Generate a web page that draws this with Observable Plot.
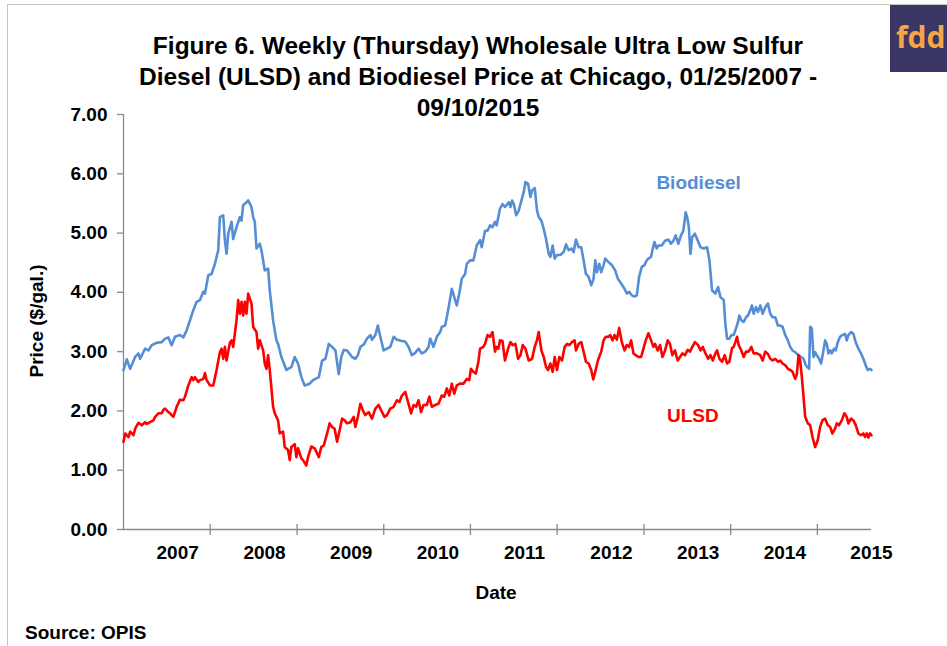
<!DOCTYPE html>
<html>
<head>
<meta charset="utf-8">
<script src="https://cdn.jsdelivr.net/npm/d3@7"></script>
<script src="https://cdn.jsdelivr.net/npm/@observablehq/plot@0.6"></script>
<style>
  html, body { margin: 0; padding: 0; background: #fff; }
  #wrap { position: relative; width: 947px; height: 646px; overflow: hidden; font-family: Arial, "Liberation Sans", sans-serif; font-weight: bold; color: #000; }
  #wrap > svg { position: absolute; left: 0; top: 0; }
  .abs { position: absolute; white-space: nowrap; }
  #border { left: 7px; top: 4px; width: 960px; height: 660px; border-left: 1.5px solid #c6c6c6; border-top: 1.5px solid #c6c6c6; }
  #title { left: 0; top: 30px; width: 956px; text-align: center; font-size: 24.5px; line-height: 31px; }
  #ylabel { left: 37px; top: 321px; font-size: 19px; transform: translate(-50%, -50%) rotate(-90deg); }
  #xlabel { left: 496px; top: 593px; font-size: 19px; transform: translate(-50%, -50%); }
  #source { left: 25px; top: 633px; font-size: 19px; transform: translate(0, -50%); }
  #logo { left: 890px; top: 5px; width: 57px; height: 67px; background: #3a3666; overflow: hidden; }
  #logo span { position: absolute; left: 6px; top: 15px; font-family: "Open Sans", Lato, sans-serif; font-size: 30px; font-weight: bold; color: #f6a646; line-height: 34px; }
</style>
</head>
<body>
<div id="wrap">
  <div id="border" class="abs"></div>
</div>
<script>
// ---- data (week index since 2007-01-25, price $/gal) ----
const startDate = "2007-01-25";
const endDate = "2015-09-10";

const biodiesel = [
[0,2.69],[2,2.87],[4,2.71],[7,2.91],[9,2.97],[10,2.88],[13,3.05],[15,3.02],[17,3.11],[20,3.15],[23,3.16],[25,3.22],[27,3.24],[29,3.11],[31,3.25],[34,3.28],[36,3.24],[38,3.36],[40,3.53],[42,3.70],[44,3.84],[46,3.87],[48,4.01],[49,3.98],[51,4.29],[53,4.31],[55,4.48],[57,4.71],[58,5.27],[60,5.30],[61,4.88],[62,4.65],[63,4.99],[65,5.19],[66,4.90],[68,5.10],[70,5.27],[71,5.21],[72,5.47],[74,5.52],[75,5.55],[77,5.44],[78,5.27],[79,5.19],[80,4.74],[82,4.82],[83,4.71],[85,4.37],[87,4.40],[88,4.03],[90,3.53],[92,3.19],[93,3.13],[95,2.91],[98,2.69],[99,2.71],[101,2.74],[103,2.91],[105,2.80],[107,2.57],[109,2.43],[112,2.46],[114,2.52],
[117.5,2.57],[119.5,2.85],[121.5,2.88],[123.5,3.13],[125.5,3.08],[127.5,3.02],[129.5,2.62],[131,2.91],[132.5,3.03],[134.5,3.02],[137.5,2.91],[139.5,2.88],[141,2.94],[142.5,3.08],[144.5,3.12],[146.5,3.22],[148.5,3.28],[149.5,3.20],[151.5,3.28],[153,3.44],[154.5,3.25],[156.5,3.02],[158.5,3.05],[160.5,3.08],[162.5,3.25],[164.5,3.20],[167.5,3.18],[169.5,3.17],[171.5,3.08],[173.5,2.94],[175.5,2.98],[177.5,3.05],[179.5,2.97],[181.5,3.00],[183.5,3.08],[184.5,3.22],[186.5,3.08],[188.5,3.25],[190.5,3.33],[191.5,3.42],[193.5,3.44],[194.5,3.58],[196,3.81],[197.5,4.06],[199,3.92],[200.5,3.78],[202,3.98],[203.5,4.23],[205.5,4.31],[206.5,4.48],[208.5,4.54],[210.5,4.54],[212.5,4.79],[214.5,4.88],[215.5,4.76],[217.5,5.04],[219,5.04],[220.5,5.13],[222,5.10],[223.5,5.19],[224.5,5.13],[226.5,5.41],[228,5.49],[229.5,5.44],
[231.8,5.52],[232.8,5.44],[233.8,5.55],[234.8,5.49],[236.2,5.30],[237.8,5.38],[239.4,5.55],[240.8,5.69],[241.8,5.86],[243.4,5.83],[244.8,5.61],[245.8,5.72],[247.4,5.76],[248.8,5.38],[249.8,5.27],[251.4,5.21],[252.8,5.07],[254.2,4.90],[255.8,4.65],[256.8,4.60],[258.2,4.79],[259.4,4.57],[260.8,4.63],[262.8,4.63],[264.8,4.68],[266.2,4.81],[267.8,4.71],[269.4,4.74],[270.8,4.68],[272.2,4.89],[273.8,4.76],[275.4,4.76],[276.8,4.54],[278.2,4.31],[279.8,4.26],[281.4,4.12],[282.8,4.23],[283.8,4.54],[284.8,4.34],[286.2,4.48],[287.4,4.34],[288.8,4.46],[289.8,4.57],[291.8,4.51],[293.8,4.46],[295.8,4.37],[297.4,4.23],[299.4,4.15],[301.4,4.06],[302.8,3.98],[304.2,4.01],[305.8,3.95],[307.4,3.93],[308.8,3.95],[310.2,4.26],[311.8,4.43],[313.4,4.46],[314.8,4.54],[315.8,4.57],[317.4,4.60],[318.2,4.71],[319.4,4.85],[320.8,4.74],[321.8,4.79],[323.8,4.79],[325.8,4.87],[327.8,4.89],[329.4,4.82],[330.8,4.87],[332.2,4.96],[333.8,4.82],[335.4,4.96],[336.8,5.04],[338.2,5.35],
[339.1,5.27],[340.1,5.10],[341.1,4.65],[342.1,4.93],[343.7,4.99],[345.1,4.90],[347.1,4.76],[349.1,4.74],[351.1,4.76],[352.5,4.54],[354.1,4.03],[356.1,3.98],[357.7,4.09],[359.1,3.92],[361.1,3.87],[362.1,3.47],[363.1,3.22],[364.5,3.22],[365.7,3.28],[367.1,3.28],[368.1,3.36],[369.7,3.50],[370.5,3.61],[371.7,3.53],[373.1,3.50],[374.5,3.58],[375.7,3.61],[377.1,3.70],[378.1,3.78],[379.1,3.64],[380.5,3.75],[381.7,3.67],[383.1,3.78],[384.5,3.64],[386.1,3.75],[387.7,3.81],[389.1,3.64],[390.5,3.58],[392.1,3.58],[393.7,3.44],[395.1,3.44],[396.5,3.42],[398.1,3.28],[399.7,3.19],[401.1,3.08],[402.5,3.02],[404.1,2.99],[406.1,2.94],[407.7,2.91],[409.1,2.88],[410.5,2.77],[412.5,2.71],[413.1,3.42],[414.1,3.39],[415.1,2.91],[416.1,2.99],[417.1,2.94],[418.5,2.88],[419.7,2.80],[421.1,3.02],[422.1,3.19],[423.1,3.13],[424.1,2.97],[425.1,3.02],[426.1,2.97],[427.5,3.05],[428.5,3.02],[429.7,3.16],[431.1,3.25],[432.5,3.28],[434.1,3.30],[435.1,3.19],[436.1,3.28],[437.7,3.33],[439.1,3.30],[440.5,3.16],[442.1,3.05],[443.7,2.97],[445.1,2.88],[446.5,2.77],[447.7,2.69],[449.1,2.71],[450,2.69]
];

const ulsd = [
[0,1.48],[1,1.62],[3,1.56],[4,1.65],[6,1.59],[7,1.70],[9,1.80],[11,1.76],[13,1.81],[14,1.78],[16,1.81],[18,1.84],[19,1.90],[21,1.96],[23,1.96],[24,2.02],[25,2.04],[27,1.98],[28,1.96],[30,1.90],[32,2.07],[34,2.19],[36,2.18],[37,2.24],[39,2.43],[41,2.57],[42,2.52],[43,2.57],[45,2.49],[46,2.52],[48,2.54],[49,2.64],[50,2.52],[52,2.43],[54,2.43],[56,2.69],[58,2.99],[59,3.05],[60,2.88],[61,3.08],[62,2.85],[64,3.15],[65,3.19],[66,3.08],[68,3.53],[69,3.87],[70,3.64],[71,3.84],[72,3.61],[73,3.84],[74,3.64],[75,3.98],[77,3.81],[78,3.42],[80,3.33],[81,3.05],[82,3.19],[84,3.02],[85,2.80],[86,2.71],[87,2.94],[88,2.69],[90,2.07],[91,1.96],[93,1.84],[94,1.62],[96,1.65],[97,1.39],[99,1.34],[100,1.17],[101,1.39],[103,1.44],[104,1.22],[105,1.37],[107,1.20],[108,1.17],[110,1.08],[111,1.22],[113,1.40],[115,1.37],
[117.5,1.22],[119,1.39],[120.5,1.42],[122.5,1.62],[124,1.79],[125.5,1.73],[127,1.70],[128.5,1.48],[130,1.67],[131.5,1.87],[133,1.84],[134.5,1.79],[136.5,1.81],[138.5,1.90],[139.5,1.73],[141,1.90],[142.5,2.12],[144,2.01],[145.5,1.93],[147.5,1.98],[149.5,1.87],[151.5,2.04],[153.5,2.10],[155,2.01],[157,1.90],[158.5,1.93],[160.5,2.04],[162.5,2.07],[164.5,2.18],[166,2.15],[167.5,2.26],[169.5,2.32],[171.5,2.12],[173,1.96],[174.5,2.10],[176,2.07],[177.5,2.18],[179,1.98],[180.5,2.10],[182.5,2.10],[184,2.24],[185.5,2.07],[187.5,2.10],[189.5,2.12],[191.5,2.26],[193,2.24],[194.5,2.38],[196,2.26],[197.5,2.46],[199,2.29],[200.5,2.43],[202.5,2.46],[204.5,2.46],[206.5,2.54],[208,2.52],[209,2.71],[210.5,2.66],[212,2.63],[213.5,2.83],[214.5,3.05],[216.5,3.08],[217.5,3.13],[219,3.28],[220.5,3.25],[222,3.33],[223.5,3.00],[224.5,3.08],[225.5,3.05],[226.5,3.19],[228,3.18],[229.5,2.85],
[231.4,3.05],[232.8,3.16],[234.2,3.11],[235.8,3.13],[237.4,2.88],[238.8,2.94],[240.2,3.11],[241.8,3.05],[243.8,2.85],[245.8,2.88],[247.4,3.08],[248.8,3.20],[249.8,3.33],[251.4,3.02],[252.8,2.91],[254.2,2.74],[255.4,2.69],[256.8,2.80],[258.2,2.66],[259.4,2.91],[260.8,2.69],[262.2,2.91],[263.8,2.85],[265.4,3.08],[266.8,3.13],[268.2,3.11],[269.8,3.16],[271.4,3.19],[272.2,3.02],[273.8,3.13],[275.4,3.16],[276.8,3.00],[278.2,2.83],[279.8,2.80],[281.4,2.69],[282.6,2.53],[283.8,2.66],[285.4,2.85],[287.4,3.00],[288.8,3.19],[290.2,3.25],[291.8,3.25],[292.8,3.28],[294.2,3.19],[295.4,3.28],[296.8,3.20],[298.2,3.40],[299.8,3.16],[301.4,3.02],[302.8,3.11],[304.2,3.08],[305.4,3.19],[306.8,2.97],[308.2,2.94],[309.8,2.91],[311.4,2.91],[312.8,3.05],[314.2,3.19],[315.8,3.31],[317.4,3.19],[318.8,3.08],[319.8,3.13],[321.4,3.02],[322.8,3.11],[324.2,2.91],[325.8,3.02],[327.4,3.19],[328.8,3.13],[330.2,2.94],[331.8,3.02],[333.4,2.85],[334.8,2.91],[336.2,2.97],[337.8,2.94],[339.4,3.03],[340.8,3.00],[342.2,3.08],[343.8,3.16],
[345.7,3.11],[347.1,3.02],[348.5,3.08],[350.1,2.97],[351.7,2.88],[353.1,2.94],[354.5,2.85],[356.1,2.97],[357.1,3.02],[358.5,2.88],[360.1,2.83],[361.7,2.94],[363.1,2.80],[364.5,2.83],[366.1,3.06],[367.1,3.08],[368.1,3.16],[369.1,3.25],[370.1,3.11],[371.7,3.02],[373.1,2.91],[374.5,3.00],[376.1,3.00],[377.7,3.08],[379.1,2.97],[381.1,2.97],[383.1,2.94],[384.5,2.85],[386.1,3.00],[387.7,2.96],[389.1,2.88],[390.5,2.85],[392.1,2.88],[393.7,2.83],[395.1,2.85],[396.5,2.80],[398.1,2.77],[399.7,2.71],[401.1,2.69],[402.5,2.66],[404.1,2.54],[405.1,2.62],[406.1,2.94],[407.1,2.85],[408.1,2.57],[409.1,2.24],[410.1,1.90],[411.7,1.79],[413.1,1.76],[414.5,1.56],[416.1,1.39],[417.7,1.51],[419.1,1.73],[420.5,1.84],[422.1,1.87],[423.7,1.76],[425.1,1.73],[426.5,1.62],[428.1,1.70],[429.1,1.79],[430.5,1.76],[432.1,1.84],[433.7,1.96],[435.1,1.90],[436.1,1.79],[437.7,1.87],[439.1,1.84],[440.5,1.76],[442.1,1.62],[443.7,1.59],[445.1,1.62],[446.1,1.56],[447.1,1.62],[448.1,1.55],[449.1,1.62],[450,1.59]
];

const yTicks = [0, 1, 2, 3, 4, 5, 6, 7];
const tickDates = ["2008-01-25","2009-01-25","2010-01-25","2011-01-25","2012-01-25","2013-01-25","2014-01-25","2015-01-25"];
const labelDates = ["2007-09-10","2008-09-10","2009-09-10","2010-09-10","2011-09-10","2012-09-10","2013-09-10","2014-09-10","2015-09-10"];
const seriesLabels = [
  {name: "Biodiesel", week: 346, price: 5.84, color: "#558ED5"},
  {name: "ULSD", week: 342.5, price: 1.91, color: "#FF0000"}
];
const titleLines = ["Figure 6. Weekly (Thursday) Wholesale Ultra Low Sulfur", "Diesel (ULSD) and Biodiesel Price at Chicago, 01/25/2007 -", "09/10/2015"];

// ---- helpers ----
const t0 = Date.parse(startDate + "T00:00:00Z");
const weekToDate = w => new Date(t0 + w * 7 * 864e5);
const parse = s => new Date(s + "T00:00:00Z");
const toRows = (arr, series) => arr.map(([w, p]) => ({date: weekToDate(w), price: p, series}));
const rows = [...toRows(biodiesel, "Biodiesel"), ...toRows(ulsd, "ULSD")];
const axisGray = "#8a8a8a";

const chart = Plot.plot({
  width: 947,
  height: 646,
  marginLeft: 123,
  marginRight: 76,
  marginTop: 114,
  marginBottom: 117,
  style: {fontFamily: "Arial, 'Liberation Sans', sans-serif", fontWeight: "bold", fontSize: "19px", color: "#000", background: "transparent", overflow: "visible"},
  x: {type: "utc", domain: [parse(startDate), parse(endDate)]},
  y: {domain: [0, 7]},
  marks: [
    Plot.axisY({ticks: yTicks, tickSize: 6, tickPadding: 10, tickFormat: d3.format(".2f"), label: null, stroke: axisGray, strokeWidth: 1.3, fontSize: 19}),
    Plot.axisX({ticks: labelDates.map(parse), tickSize: 0, tickPadding: 16, tickFormat: d3.utcFormat("%Y"), label: null, fontSize: 19}),
    Plot.ruleX([parse(startDate)], {y1: 0, y2: 7, stroke: axisGray, strokeWidth: 1.3}),
    Plot.ruleY([0], {stroke: axisGray, strokeWidth: 1.3}),
    Plot.ruleX(tickDates.map(parse), {x: d => d, y1: 0, y2: 0, insetTop: -5, insetBottom: -6, stroke: axisGray, strokeWidth: 1.3}),
    Plot.line(rows, {x: "date", y: "price", z: "series", stroke: d => d.series === "ULSD" ? "#FF0000" : "#558ED5", strokeWidth: 2.6, curve: "linear"}),
    Plot.text(seriesLabels, {x: d => weekToDate(d.week), y: "price", text: "name", fill: "color", fontSize: 19, fontWeight: "bold"})
  ]
});
const wrap = document.getElementById("wrap");
wrap.appendChild(chart);

function addDiv(id, html) {
  const d = document.createElement("div");
  d.id = id; d.className = "abs"; d.innerHTML = html;
  wrap.appendChild(d);
  return d;
}
addDiv("title", titleLines.join("<br>"));
addDiv("ylabel", "Price ($/gal.)");
addDiv("xlabel", "Date");
addDiv("source", "Source: OPIS");
addDiv("logo", "<span>fdd</span>");
</script>
</body>
</html>
